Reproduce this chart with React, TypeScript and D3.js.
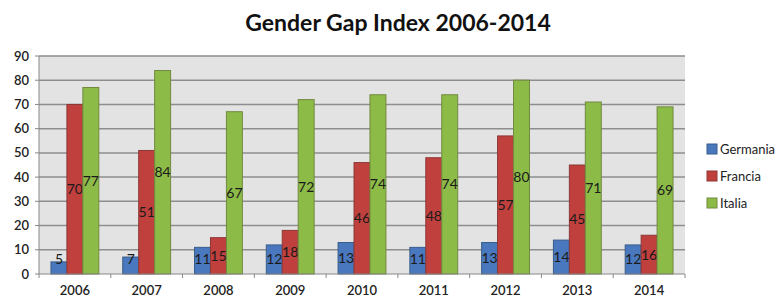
import * as d3 from "d3";

const years = ["2006", "2007", "2008", "2009", "2010", "2011", "2012", "2013", "2014"];
const seriesNames = ["Germania", "Francia", "Italia"];
const germania = [5, 7, 11, 12, 13, 11, 13, 14, 12];
const francia = [70, 51, 15, 18, 46, 48, 57, 45, 16];
const italia = [77, 84, 67, 72, 74, 74, 80, 71, 69];
const yTicks = [0, 10, 20, 30, 40, 50, 60, 70, 80, 90];

const fills = ["#4A78BE", "#C0403E", "#8DBB48"];
const strokes = ["#385D8A", "#8C3836", "#71893F"];
const font = "Lato, 'Open Sans', sans-serif";

export default function App() {
  const width = 779;
  const height = 299;
  const marginLeft = 39;
  const marginRight = 94;
  const marginTop = 56;
  const marginBottom = 25;

  const values = [germania, francia, italia];

  const x = d3
    .scaleBand<string>()
    .domain(years)
    .range([marginLeft, width - marginRight]);
  const inner = d3
    .scaleBand<string>()
    .domain(seriesNames)
    .range([0, x.bandwidth()])
    .paddingOuter(0.75)
    .paddingInner(0);
  const y = d3.scaleLinear([0, 90], [height - marginBottom, marginTop]);

  return (
    <svg
      width={width}
      height={height}
      style={{ position: "absolute", left: 0, top: 0, background: "#fff" }}
    >
      <text
        x={398}
        y={31}
        textAnchor="middle"
        fontFamily={font}
        fontWeight="bold"
        fontSize={23}
        fill="#111"
      >
        Gender Gap Index 2006-2014
      </text>

      <rect
        x={marginLeft}
        y={marginTop}
        width={width - marginRight - marginLeft}
        height={height - marginBottom - marginTop}
        fill="#E3E3E3"
      />
      {yTicks.map((t) => (
        <g key={t}>
          {t > 0 && (
            <line
              x1={marginLeft}
              x2={width - marginRight}
              y1={y(t)}
              y2={y(t)}
              stroke="#8E8E8E"
              strokeWidth={1.5}
            />
          )}
          <line x1={marginLeft - 4} x2={marginLeft} y1={y(t)} y2={y(t)} stroke="#888" />
          <text
            x={marginLeft - 10}
            y={y(t)}
            dy="0.35em"
            textAnchor="end"
            fontFamily={font}
            fontWeight={600}
            fontSize={13}
            fill="#222"
          >
            {t}
          </text>
        </g>
      ))}

      {years.map((yr, i) => (
        <g key={yr} transform={`translate(${x(yr)},0)`}>
          {values.map((vals, s) => {
            const v = vals[i];
            const bx = inner(seriesNames[s]) ?? 0;
            const by = y(v);
            const h = y(0) - by;
            const ly = Math.min((by + y(0)) / 2, y(0) - 15);
            return (
              <g key={s}>
                <rect
                  x={bx}
                  y={by}
                  width={inner.bandwidth()}
                  height={h}
                  fill={fills[s]}
                  stroke={strokes[s]}
                  strokeWidth={1}
                />
                <text
                  x={bx + inner.bandwidth() / 2}
                  y={ly}
                  dy="0.35em"
                  textAnchor="middle"
                  fontFamily={font}
                  fontSize={14}
                  fill="#1a1a1a"
                >
                  {v}
                </text>
              </g>
            );
          })}
          <text
            x={x.bandwidth() / 2}
            y={height - 4}
            textAnchor="middle"
            fontFamily={font}
            fontWeight={600}
            fontSize={13}
            fill="#222"
          >
            {yr}
          </text>
        </g>
      ))}

      <line
        x1={marginLeft}
        x2={marginLeft}
        y1={marginTop}
        y2={y(0)}
        stroke="#888"
      />
      <line
        x1={marginLeft}
        x2={width - marginRight}
        y1={y(0)}
        y2={y(0)}
        stroke="#888"
      />
      {[...years.map((yr) => x(yr) ?? 0), width - marginRight].map((px, i) => (
        <line key={i} x1={px} x2={px} y1={y(0)} y2={y(0) + 4} stroke="#888" />
      ))}

      {seriesNames.map((name, s) => (
        <g key={name} transform={`translate(707,${149 + s * 27})`}>
          <rect x={0} y={-5} width={10} height={10} fill={fills[s]} stroke={strokes[s]} />
          <text x={13} y={0} dy="0.35em" fontFamily={font} fontSize={13} fill="#222">
            {name}
          </text>
        </g>
      ))}
    </svg>
  );
}
